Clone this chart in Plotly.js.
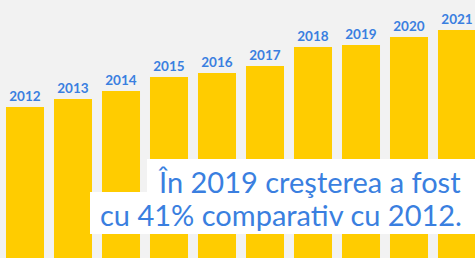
<!DOCTYPE html>
<html>
<head>
<meta charset="utf-8">
<script src="https://cdn.plot.ly/plotly-3.0.1.min.js"></script>
<style>
html,body{margin:0;padding:0;background:#f2f2f2;}
#chart{width:475px;height:258px;}
</style>
</head>
<body>
<div id="chart"></div>
<script>
const years = ["2012","2013","2014","2015","2016","2017","2018","2019","2020","2021"];
const values = [100, 105.3, 110.6, 119.9, 122.5, 127.2, 139.7, 141.1, 146.4, 151.0];
const captionLines = ["În 2019 creşterea a fost", "cu 41% comparativ cu 2012."];

const W = 475, H = 258;
const px = x => x / W;
const py = y => 1 - y / H;

const trace = {
  type: "bar",
  x: years,
  y: values,
  text: years,
  textposition: "outside",
  cliponaxis: false,
  textfont: {family: "Lato, sans-serif", size: 13.5, color: "#3a7fe0", weight: "bold"},
  marker: {color: "#ffcc00"},
  hoverinfo: "none"
};

const layout = {
  width: W, height: H,
  margin: {l: 0, r: 0, t: 0, b: 0},
  paper_bgcolor: "#f2f2f2",
  plot_bgcolor: "#f2f2f2",
  bargap: 0.208,
  showlegend: false,
  xaxis: {type: "category", range: [-0.5208, 9.375], visible: false, fixedrange: true},
  yaxis: {range: [0, 170.9], visible: false, fixedrange: true},
  shapes: [
    {type: "rect", xref: "paper", yref: "paper", x0: px(147), x1: px(476), y0: py(192), y1: py(159), fillcolor: "#ffffff", line: {width: 0}, layer: "above"},
    {type: "rect", xref: "paper", yref: "paper", x0: px(90), x1: px(476), y0: py(234), y1: py(192), fillcolor: "#ffffff", line: {width: 0}, layer: "above"}
  ],
  annotations: [
    {text: captionLines[0], xref: "paper", yref: "paper", x: px(463), y: py(181), xanchor: "right", yanchor: "middle", showarrow: false, font: {family: "Lato, sans-serif", size: 29, color: "#3a7fe0"}},
    {text: captionLines[1], xref: "paper", yref: "paper", x: px(464), y: py(214), xanchor: "right", yanchor: "middle", showarrow: false, font: {family: "Lato, sans-serif", size: 29, color: "#3a7fe0"}}
  ]
};

Plotly.newPlot("chart", [trace], layout, {displayModeBar: false, staticPlot: true});
</script>
</body>
</html>
